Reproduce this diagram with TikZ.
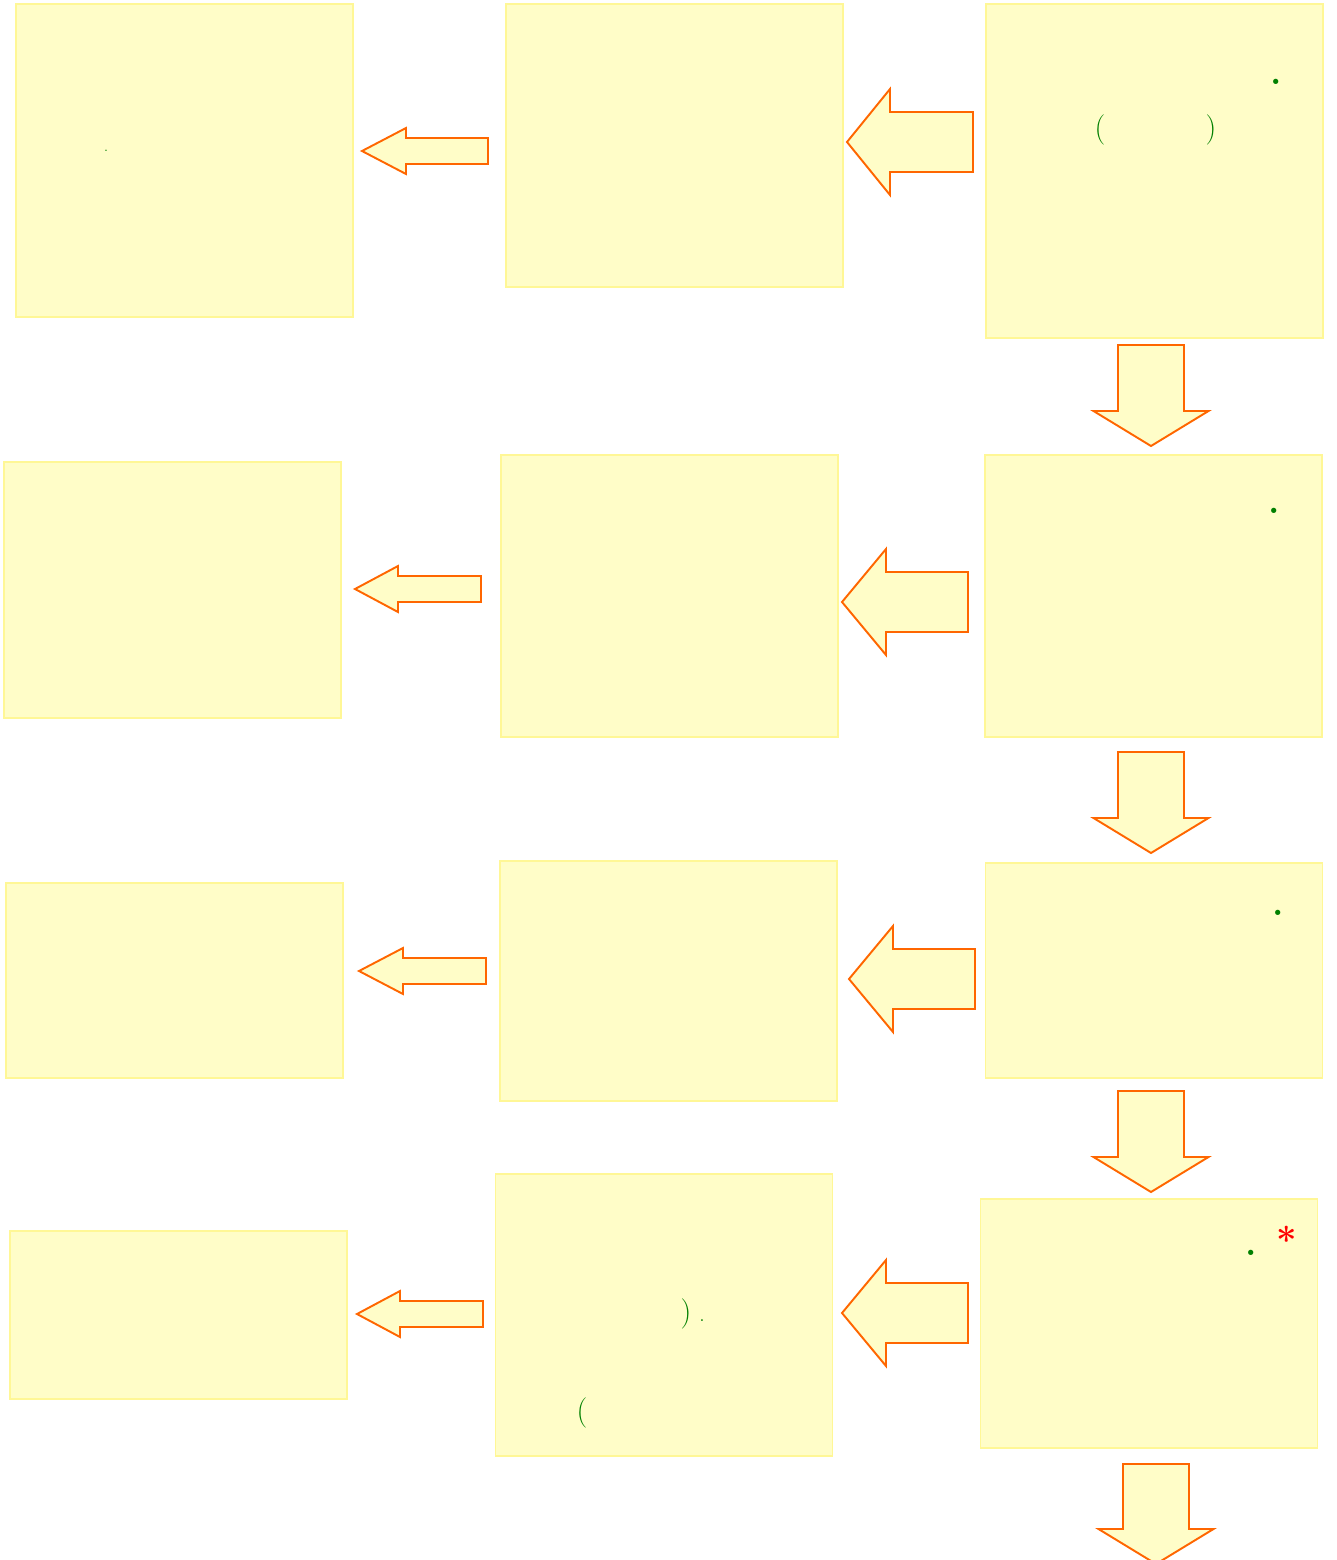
\documentclass[tikz,border=0pt]{standalone}
\usepackage{xcolor}
\usepackage{tikz}
\usetikzlibrary{calc}

\definecolor{notefill}{RGB}{255,253,200}
\definecolor{noteline}{RGB}{255,247,150}
\definecolor{arrowline}{RGB}{255,102,0}
\definecolor{markgreen}{RGB}{0,128,0}

% block arrow pointing left: tip, tail, head length, half shaft, half head
\newcommand{\blockleft}[5]{%
  \draw[blockarrow] (#1) -- ($(#1)+(#3,#5)$) -- ($(#1)+(#3,#4)$) -- ($(#2)+(0,#4)$)
    -- ($(#2)+(0,-#4)$) -- ($(#1)+(#3,-#4)$) -- ($(#1)+(#3,-#5)$) -- cycle;}
% block arrow pointing down
\newcommand{\blockdown}[5]{%
  \draw[blockarrow] (#1) -- ($(#1)+(#5,-#3)$) -- ($(#1)+(#4,-#3)$) -- ($(#2)+(#4,0)$)
    -- ($(#2)+(-#4,0)$) -- ($(#1)+(-#4,-#3)$) -- ($(#1)+(-#5,-#3)$) -- cycle;}

\begin{document}
\begin{tikzpicture}[x=0.02cm, y=-0.02cm,
  box/.style={draw=noteline, fill=notefill, line width=0.8pt, inner sep=0pt, minimum width=6.74cm},
  blockarrow/.style={draw=arrowline, fill=notefill, line width=1.1pt, line join=miter},
  glyph/.style={text=markgreen, inner sep=0pt, font=\LARGE},
  bigdot/.style={glyph, font=\huge\bfseries}]

  \useasboundingbox (0,0) rectangle (1337,1560);

  % Row 1
  \node[box, minimum height=6.68cm] (r1) at (1154.5,171) {};
  \node[box, minimum height=5.66cm] (m1) at (674.5,145.5) {};
  \node[box, minimum height=6.26cm] (l1) at (184.5,160.5) {};

  % Row 2
  \node[box, minimum height=5.64cm] (r2) at (1153.5,596) {};
  \node[box, minimum height=5.64cm] (m2) at (669.5,596) {};
  \node[box, minimum height=5.12cm] (l2) at (172.5,590) {};

  % Row 3
  \node[box, minimum height=4.3cm] (r3) at (1154,970.5) {};
  \node[box, minimum height=4.8cm] (m3) at (668.5,981) {};
  \node[box, minimum height=3.9cm] (l3) at (174.5,980.5) {};

  % Row 4
  \node[box, minimum height=4.98cm] (r4) at (1149,1323.5) {};
  \node[box, minimum height=5.64cm] (m4) at (664,1315) {};
  \node[box, minimum height=3.36cm] (l4) at (178.5,1315) {};

  % Marks left of the text
  \node[bigdot] (r1dot) at (1276,82) {.};
  \node[glyph] (r1open) at (1100,130) {(};
  \node[glyph] (r1close) at (1211,130) {)};
  \node[glyph, font=\scriptsize] (l1dot) at (106,151) {.};
  \node[bigdot] (r2dot) at (1274,511) {.};
  \node[bigdot] (r3dot) at (1278,913) {.};
  \node[bigdot] (r4dot) at (1251,1253) {.};
  \node[inner sep=0pt, text=red, font=\huge\bfseries] (r4star) at (1287,1240) {*};
  \node[glyph] (m4close) at (686,1314) {)};
  \node[glyph, font=\normalsize] (m4dot) at (702,1321) {.};
  \node[glyph] (m4open) at (582,1413) {(};

  % Arrow ends
  \coordinate (a1tip) at (847,142);   \coordinate (a1tail) at (973,142);
  \coordinate (b1tip) at (362,151);   \coordinate (b1tail) at (488,151);
  \coordinate (a2tip) at (842,602);   \coordinate (a2tail) at (968,602);
  \coordinate (b2tip) at (355,589);   \coordinate (b2tail) at (481,589);
  \coordinate (a3tip) at (849,979);   \coordinate (a3tail) at (975,979);
  \coordinate (b3tip) at (359,971);   \coordinate (b3tail) at (486,971);
  \coordinate (a4tip) at (842,1313);  \coordinate (a4tail) at (968,1313);
  \coordinate (b4tip) at (357,1314);  \coordinate (b4tail) at (483,1314);
  \coordinate (d1tip) at (1151,446);  \coordinate (d1tail) at (1151,345);
  \coordinate (d2tip) at (1151,853);  \coordinate (d2tail) at (1151,752);
  \coordinate (d3tip) at (1151,1192); \coordinate (d3tail) at (1151,1091);
  \coordinate (d4tip) at (1156,1564); \coordinate (d4tail) at (1156,1464);

  % Big arrows, right column to middle column
  \blockleft{a1tip}{a1tail}{43}{30}{53}
  \blockleft{a2tip}{a2tail}{44}{30}{53}
  \blockleft{a3tip}{a3tail}{44}{30}{53}
  \blockleft{a4tip}{a4tail}{44}{30}{53}

  % Small arrows, middle column to left column
  \blockleft{b1tip}{b1tail}{44}{13}{23}
  \blockleft{b2tip}{b2tail}{43}{13}{23}
  \blockleft{b3tip}{b3tail}{44}{13}{23}
  \blockleft{b4tip}{b4tail}{43}{13}{23}

  % Down arrows in the right column
  \blockdown{d1tip}{d1tail}{35}{33}{57.5}
  \blockdown{d2tip}{d2tail}{35}{33}{57.5}
  \blockdown{d3tip}{d3tail}{35}{33}{57.5}
  \blockdown{d4tip}{d4tail}{35}{33}{57.5}

\end{tikzpicture}
\end{document}
